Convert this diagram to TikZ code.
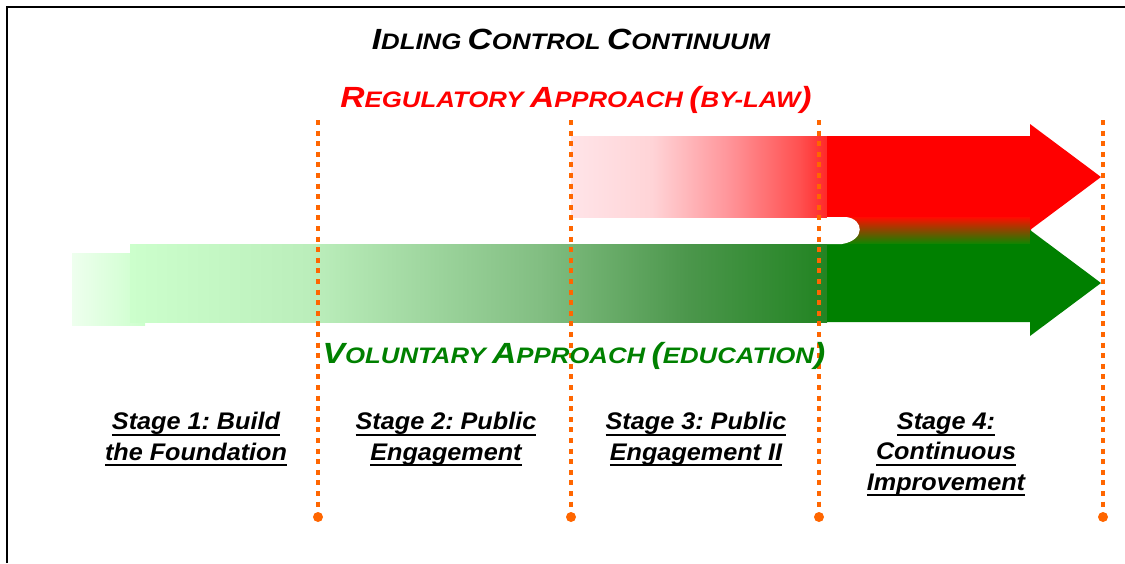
\documentclass[tikz,border=0pt]{standalone}
\usepackage{fontspec}
\setmainfont{Liberation Sans}[FakeStretch=1.15]
\newfontfamily\stagefont{Liberation Sans}[FakeStretch=1.05]
\frenchspacing

\definecolor{stageorange}{RGB}{255,102,0}
\definecolor{regred}{RGB}{255,0,0}
\definecolor{volgreen}{RGB}{0,128,0}
\definecolor{volpale}{RGB}{238,255,238}
\definecolor{volA}{RGB}{204,255,204}
\definecolor{volB}{RGB}{186,237,186}
\definecolor{volC}{RGB}{130,190,130}
\definecolor{volD}{RGB}{75,150,75}
\definecolor{volE}{RGB}{34,132,34}
\definecolor{regA}{RGB}{255,228,232}
\definecolor{regB}{RGB}{255,212,215}
\definecolor{regC}{RGB}{255,150,155}
\definecolor{regD}{RGB}{255,80,80}
\definecolor{regE}{RGB}{255,40,40}

% fades along the two arrow shafts
\pgfdeclarehorizontalshading{volfade}{100bp}{color(0bp)=(volA); color(25bp)=(volA);
  color(38.5bp)=(volB); color(54.4bp)=(volC); color(65.1bp)=(volD); color(75bp)=(volE); color(100bp)=(volE)}
\pgfdeclarehorizontalshading{regfade}{100bp}{color(0bp)=(regA); color(25bp)=(regA);
  color(40.8bp)=(regB); color(55.5bp)=(regC); color(69.7bp)=(regD); color(75bp)=(regE); color(100bp)=(regE)}

% big first letter, small rest
\newcommand{\smallcap}[2]{{\fontsize{14.6}{17}\selectfont #1}{\fontsize{11.2}{13}\selectfont #2}}
% heavier underline for the stage names
\newcommand{\stageline}[1]{\setbox0\hbox{#1}\leavevmode\rlap{\vrule width\wd0 height -2.2pt depth 3.2pt}\box0}

\begin{document}
\begin{tikzpicture}[x=0.5pt,y=-0.5pt,
    heading/.style={font=\bfseries\itshape, inner sep=0pt, anchor=base},
    stage/.style={font=\stagefont\fontsize{12}{15.2}\selectfont\bfseries\itshape, align=center, inner sep=0pt, anchor=base},
    divider/.style={stageorange, line width=2.4pt, dash pattern=on 2.5pt off 2.8pt}]
  \useasboundingbox (0,0) rectangle (1125,563);
  \draw[line width=1pt] (7,563) -- (7,7) -- (1125,7);

  % voluntary arrow
  \shade[left color=volpale, right color=volA] (72,253) rectangle (145,325);
  \shade[shading=volfade] (130,244) rectangle (827,322);
  % regulatory arrow
  \shade[shading=regfade] (571,136) rectangle (827,217);
  \shade[top color=regred!90!orange, middle color=orange!60!volgreen, bottom color=volgreen!95!yellow] (827,217) rectangle (1031,244);
  \fill[regred] (827,136) -- (1030,136) -- (1030,124) -- (1101,177) -- (1030,230) -- (1030,217) -- (827,217) -- cycle;
  \fill[volgreen] (827,244) -- (1030,244) -- (1030,230) -- (1101,283) -- (1030,336) -- (1030,322) -- (827,322) -- cycle;
  \fill[white] (827,217) -- (846,217) .. controls (864,219) and (866,240) .. (842,244) -- (827,244) -- cycle;

  % stage boundaries
  \foreach \x in {318,571,819,1103} {
    \draw[divider] (\x,120) -- (\x,511);
    \fill[stageorange] (\x,517) circle (5);
  }

  \node[heading] (title) at (571,49) {\smallcap{I}{DLING} \smallcap{C}{ONTROL} \smallcap{C}{ONTINUUM}};
  \node[heading, text=regred] (regulatory) at (576,107) {\smallcap{R}{EGULATORY} \smallcap{A}{PPROACH} \smallcap{(}{BY-LAW}\smallcap{)}{}};
  \node[heading, text=volgreen] (voluntary) at (574,363) {\smallcap{V}{OLUNTARY} \smallcap{A}{PPROACH} \smallcap{(}{EDUCATION}\smallcap{)}{}};

  % base is the last line here
  \node[stage] (stage1) at (196,460) {\stageline{Stage 1: Build}\\\stageline{the Foundation}};
  \node[stage] (stage2) at (446,460) {\stageline{Stage 2: Public}\\\stageline{Engagement}};
  \node[stage] (stage3) at (696,460) {\stageline{Stage 3: Public}\\\stageline{Engagement II}};
  \node[stage] (stage4) at (946,490) {\stageline{Stage 4:}\\\stageline{Continuous}\\\stageline{Improvement}};
\end{tikzpicture}
\end{document}
